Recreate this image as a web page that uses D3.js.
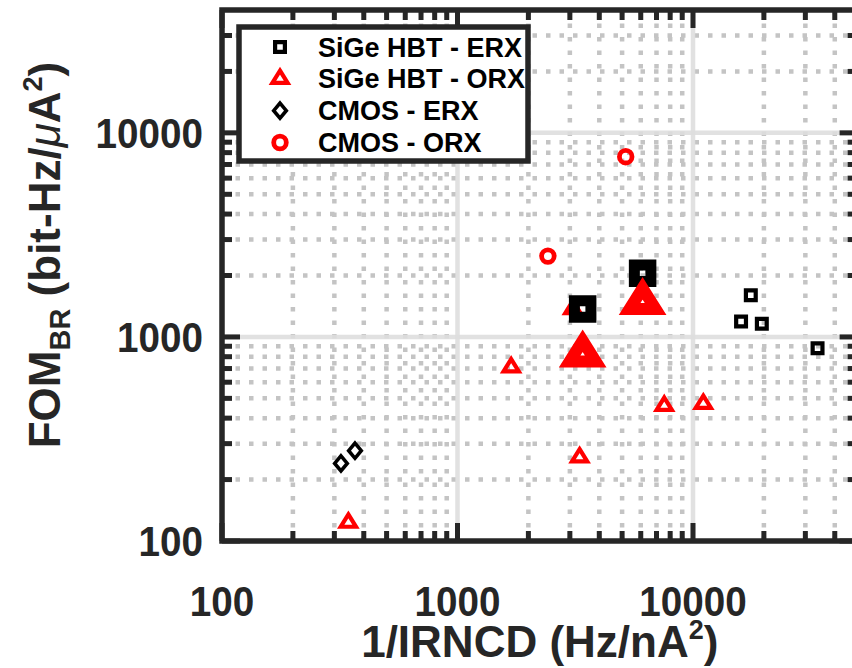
<!DOCTYPE html>
<html>
<head>
<meta charset="utf-8">
<script src="https://cdn.jsdelivr.net/npm/d3@7"></script>
<style>
  body { margin: 0; background: #fff; }
  svg text { font-family: "Liberation Sans", Arial, sans-serif; font-weight: bold; fill: #262626; }
</style>
</head>
<body>
<svg id="chart" width="852" height="668"></svg>
<script>
// receiver figure of merit vs. 1/IRNCD
var sigeErx = [[17600, 1600], [16000, 1190], [19600, 1160], [33800, 880]];
var sigeOrx = [[3090, 1370], [1690, 710], [7550, 460], [11060, 470], [3300, 257], [344, 123]];
var cmosErx = [[320, 240], [367, 277]];
var cmosOrx = [[5180, 7640], [2420, 2490]];
// highlighted (large) entries
var bigErx = [[6110, 2050], [3400, 1370]];
var bigOrx = [[6110, 1480], [3400, 820]];

var legendNames = ["SiGe HBT - ERX", "SiGe HBT - ORX", "CMOS - ERX", "CMOS - ORX"];
var xMajor = [100, 1000, 10000];
var yMajor = [100, 1000, 10000];
var xMinor = [200, 300, 400, 500, 600, 700, 800, 900, 2000, 3000, 4000, 5000, 6000, 7000, 8000, 9000, 20000, 30000, 40000];
var yMinor = [200, 300, 400, 500, 600, 700, 800, 900, 2000, 3000, 4000, 5000, 6000, 7000, 8000, 9000, 20000, 30000];

var svg = d3.select("#chart");
var pLeft = 222, pRight = 857.6, pTop = 10, pBottom = 541;

var x = d3.scaleLog().domain([100, 50000]).range([pLeft, pRight]);
var y = d3.scaleLog().domain([100, 40000]).range([pBottom, pTop]);

var gGrid = svg.append("g");
// minor grid, dotted
gGrid.selectAll(".vmin").data(xMinor).enter().append("line")
    .attr("x1", d => x(d)).attr("x2", d => x(d))
    .attr("y1", pBottom).attr("y2", pTop)
    .attr("stroke", "#c4c4c4").attr("stroke-width", 4.5)
    .attr("stroke-dasharray", "4.5 9");
gGrid.selectAll(".hmin").data(yMinor).enter().append("line")
    .attr("x1", pLeft).attr("x2", pRight)
    .attr("y1", d => y(d)).attr("y2", d => y(d))
    .attr("stroke", "#c4c4c4").attr("stroke-width", 4.5)
    .attr("stroke-dasharray", "4.5 9");
// major grid, solid
gGrid.selectAll(".vmaj").data(xMajor.slice(1)).enter().append("line")
    .attr("x1", d => x(d)).attr("x2", d => x(d))
    .attr("y1", pBottom).attr("y2", pTop)
    .attr("stroke", "#dedede").attr("stroke-width", 4.5).attr("opacity", 0.9);
gGrid.selectAll(".hmaj").data(yMajor.slice(1)).enter().append("line")
    .attr("x1", pLeft).attr("x2", pRight)
    .attr("y1", d => y(d)).attr("y2", d => y(d))
    .attr("stroke", "#dedede").attr("stroke-width", 4.5).attr("opacity", 0.9);

// marker shapes
function sq(s) { return `M${-s/2},${-s/2}H${s/2}V${s/2}H${-s/2}Z`; }
function tri(hw, up, dn) { return `M0,${-up}L${hw},${dn}L${-hw},${dn}Z`; }
function dia(a, b) { return `M0,${-b}L${a},0L0,${b}L${-a},0Z`; }

var markers = {
  sqSmall: { d: sq(9.8), stroke: "#000", w: 4.2 },
  triSmall: { d: tri(7.6, 8.2, 4.1), stroke: "#ff0000", w: 4.2 },
  dia: { d: dia(6.3, 7.6), stroke: "#000", w: 3.6 },
  sqBig: { d: sq(16.5), stroke: "#000", w: 11 },
  triBig: { d: tri(13, 13.8, 6.9), stroke: "#ff0000", w: 12 }
};

function drawPath(data, m) {
  svg.append("g").selectAll("path").data(data).enter().append("path")
      .attr("transform", d => `translate(${x(d[0])},${y(d[1])})`)
      .attr("d", m.d)
      .attr("fill", "none")
      .attr("stroke", m.stroke)
      .attr("stroke-width", m.w)
      .attr("stroke-linejoin", "miter")
      .attr("stroke-miterlimit", 10);
}

drawPath(sigeErx, markers.sqSmall);
drawPath(sigeOrx, markers.triSmall);
drawPath(cmosErx, markers.dia);
svg.append("g").selectAll("circle").data(cmosOrx).enter().append("circle")
    .attr("cx", d => x(d[0])).attr("cy", d => y(d[1]))
    .attr("r", 6.3)
    .attr("fill", "none").attr("stroke", "#ff0000").attr("stroke-width", 4.8);
drawPath(bigErx, markers.sqBig);
drawPath(bigOrx, markers.triBig);

// axes box with inward ticks on all four sides
var axisColor = "#262626";
var gAx = svg.append("g");
var minorLen = 10, majorLen = 18;
function ticksX(vals, len) {
  vals.forEach(function(v) {
    gAx.append("line").attr("x1", x(v)).attr("x2", x(v))
        .attr("y1", pBottom).attr("y2", pBottom - len)
        .attr("stroke", axisColor).attr("stroke-width", 5);
    gAx.append("line").attr("x1", x(v)).attr("x2", x(v))
        .attr("y1", pTop).attr("y2", pTop + len)
        .attr("stroke", axisColor).attr("stroke-width", 5);
  });
}
function ticksY(vals, len) {
  vals.forEach(function(v) {
    gAx.append("line").attr("y1", y(v)).attr("y2", y(v))
        .attr("x1", pLeft).attr("x2", pLeft + len)
        .attr("stroke", axisColor).attr("stroke-width", 5);
    gAx.append("line").attr("y1", y(v)).attr("y2", y(v))
        .attr("x1", pRight).attr("x2", pRight - len)
        .attr("stroke", axisColor).attr("stroke-width", 5);
  });
}
ticksX(xMinor, minorLen);
ticksX(xMajor, majorLen);
ticksY(yMinor, minorLen);
ticksY(yMajor, majorLen);
gAx.append("rect")
    .attr("x", pLeft).attr("y", pTop)
    .attr("width", pRight - pLeft).attr("height", pBottom - pTop)
    .attr("fill", "none").attr("stroke", axisColor).attr("stroke-width", 5.5);

// tick labels (slightly condensed glyphs)
function squeeze(sel, k) {
  sel.each(function() {
    var len = this.getComputedTextLength();
    d3.select(this).attr("textLength", len * k).attr("lengthAdjust", "spacingAndGlyphs");
  });
}
var xl = svg.append("g").selectAll("text").data(xMajor).enter().append("text")
    .attr("x", d => x(d)).attr("y", 616)
    .attr("text-anchor", "middle")
    .attr("font-size", 42)
    .text(d => d);
squeeze(xl, 0.92);
var yl = svg.append("g").selectAll("text").data(yMajor).enter().append("text")
    .attr("x", 203).attr("y", d => y(d) + 15)
    .attr("text-anchor", "end")
    .attr("font-size", 42)
    .text(d => d);
squeeze(yl, 0.92);

// axis titles
var xt = svg.append("text")
    .attr("x", (pLeft + pRight) / 2).attr("y", 657)
    .attr("text-anchor", "middle")
    .attr("font-size", 44);
xt.append("tspan").text("1/IRNCD (Hz/nA");
xt.append("tspan").attr("font-size", 27).attr("dy", -18).text("2");
xt.append("tspan").attr("dy", 18).text(")");

var yt = svg.append("text")
    .attr("transform", "translate(60,255) rotate(-90)")
    .attr("text-anchor", "middle")
    .attr("font-size", 44);
yt.append("tspan").text("FOM");
yt.append("tspan").attr("font-size", 29).attr("dy", 10).text("BR");
yt.append("tspan").attr("dy", -10).text(" (bit-Hz/");
yt.append("tspan").attr("font-style", "italic").attr("font-weight", "normal").text("\u03bc");
yt.append("tspan").text("A");
yt.append("tspan").attr("font-size", 27).attr("dy", -18).text("2");
yt.append("tspan").attr("dy", 18).text(")");

// legend
var lg = svg.append("g");
lg.append("rect")
    .attr("x", 239).attr("y", 27).attr("width", 289).attr("height", 134)
    .attr("fill", "#fff").attr("stroke", axisColor).attr("stroke-width", 5.5);
var rowY = d3.scaleLinear().domain([0, 3]).range([47, 142.5]);
var legendMarks = [markers.sqSmall, markers.triSmall, markers.dia, null];
legendNames.forEach(function(name, i) {
  var cy = rowY(i);
  if (legendMarks[i]) {
    var m = legendMarks[i];
    lg.append("path")
        .attr("transform", `translate(280,${cy})`)
        .attr("d", m.d).attr("fill", "none")
        .attr("stroke", m.stroke).attr("stroke-width", m.w)
        .attr("stroke-miterlimit", 10);
  } else {
    lg.append("circle").attr("cx", 280).attr("cy", cy).attr("r", 6.3)
        .attr("fill", "none").attr("stroke", "#ff0000").attr("stroke-width", 4.8);
  }
  lg.append("text")
      .attr("x", 318).attr("y", cy + 9.5)
      .attr("font-size", 27)
      .style("fill", "#000")
      .text(name);
});
</script>
</body>
</html>
